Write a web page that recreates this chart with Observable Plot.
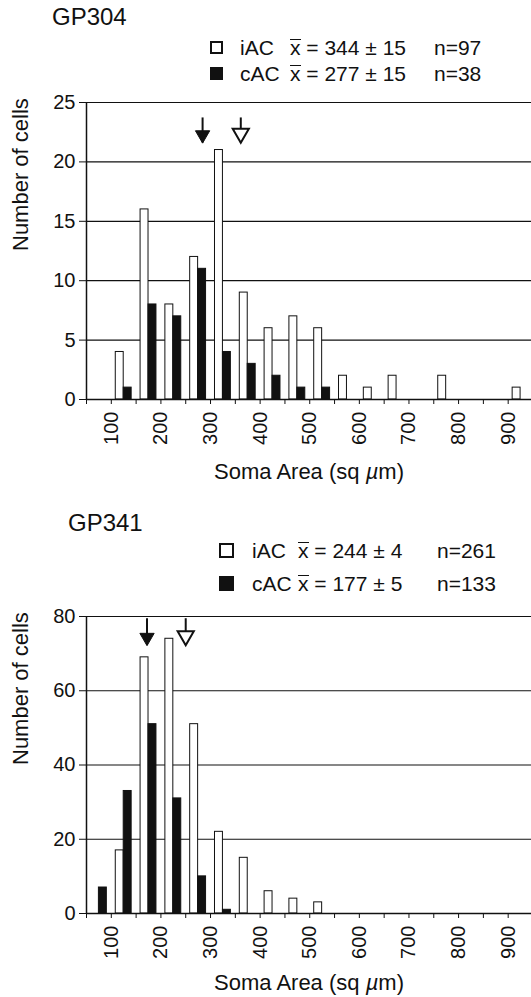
<!DOCTYPE html>
<html><head><meta charset="utf-8">
<script src="https://cdn.jsdelivr.net/npm/d3@7"></script>
<script src="https://cdn.jsdelivr.net/npm/@observablehq/plot@0.6"></script>
<style>
body{margin:0;background:#fff;font-family:"Liberation Sans",Arial,sans-serif;color:#111;}
#wrap{position:relative;width:531px;height:997px;overflow:hidden;background:#fff;}
.abs{position:absolute;white-space:nowrap;line-height:1;}
.title{font-size:24px;}
.leg{font-size:21px;}
.sq{position:absolute;box-sizing:border-box;border:2px solid #111;background:#fff;}
.sq.f{background:#111;}
.ov{position:relative;display:inline-block;}
.ov::before{content:"";position:absolute;left:0;right:0;top:2px;height:1.6px;background:#111;}
svg{position:absolute;left:0;}
</style></head><body><div id="wrap"></div>
<script>
// ---------- data ----------
const topBins = [100,150,200,250,300,350,400,450,500,550,600,650,700,750,800,850,900];
const topIAC  = [4,16,8,12,21,9,6,7,6,2,1,2,0,2,0,0,1];
const topCAC  = [1,8,7,11,4,3,2,1,1,0,0,0,0,0,0,0,0];
const botBins = [50,100,150,200,250,300,350,400,450,500];
const botIAC  = [0,17,69,74,51,22,15,6,4,3];
const botCAC  = [7,33,51,31,10,1,0,0,0,0];
const xTicks = [50,100,150,200,250,300,350,400,450,500,550,600,650,700,750,800,850,900];
const xTickLabels = [100,200,300,400,500,600,700,800,900];
const topYTicks = [0,5,10,15,20,25];
const botYTicks = [0,20,40,60,80];
// arrows: [cAC (filled), iAC (open)]
const topArrowX = [284,361];
const topArrowTop = [23.7,23.7];
const topArrowTip = [21.6,21.6];
const botArrowX = [172,250];
const botArrowTop = [79.4,79.4];
const botArrowTip = [72.2,72.2];
const groups = ["iAC","cAC"];
const topStats = {iAC:["344 ± 15","n=97"], cAC:["277 ± 15","n=38"]};
const botStats = {iAC:["244 ± 4","n=261"], cAC:["177 ± 5","n=133"]};

const BW = 16; // bar width in x units
const wrap = document.getElementById("wrap");

function addText(cls, txt, left, top){
  const d = document.createElement("div");
  d.className = "abs " + cls;
  d.style.left = left + "px"; d.style.top = top + "px";
  d.innerHTML = txt;
  wrap.appendChild(d);
}

function legend(stats, rows, sqLeft, sqSize, xLab, xMean, xN){
  groups.forEach((g,i)=>{
    const c = rows[i];
    const s = document.createElement("div");
    s.className = "sq" + (g==="cAC" ? " f" : "");
    s.style.left = sqLeft+"px"; s.style.top = (c - sqSize/2)+"px";
    s.style.width = sqSize+"px"; s.style.height = sqSize+"px";
    wrap.appendChild(s);
    addText("leg", g, xLab, c-10.5);
    addText("leg", '<span class="ov">x</span> = ' + stats[g][0], xMean, c-10.5);
    addText("leg", stats[g][1], xN, c-10.5);
  });
}

function chart({bins, iac, cac, yTicks, yMax, arrowX, arrowTop, arrowTip, top, mt, mb, titleDy}){
  const rows = bins.map((b,i)=>({c:b+25, iac:iac[i], cac:cac[i]}));
  const arrows = arrowX.map((x,i)=>({x, top:arrowTop[i], tip:arrowTip[i], filled:i===0}));
  const plot = Plot.plot({
    width: 531, height: mt + 297 + mb,
    marginLeft: 86, marginRight: 0, marginTop: mt, marginBottom: mb,
    x: {domain: [50, 947]},
    y: {domain: [0, yMax]},
    style: {fontFamily: "'Liberation Sans', Arial, sans-serif", fontSize: "20px", color: "#111", background: "white", overflow: "visible"},
    marks: [
      Plot.gridY(yTicks.filter(d=>d>0), {stroke:"#111", strokeOpacity:1, strokeWidth:1.2}),
      Plot.rect(rows.filter(d=>d.iac>0), {x1:d=>d.c-BW, x2:d=>d.c, y1:0, y2:"iac", fill:"white", stroke:"#111", strokeWidth:1}),
      Plot.rect(rows.filter(d=>d.cac>0), {x1:d=>d.c, x2:d=>d.c+BW, y1:0, y2:"cac", fill:"#111", stroke:"#111", strokeWidth:1}),
      Plot.ruleX([50], {stroke:"#111", strokeWidth:1.5}),
      Plot.ruleY([0], {stroke:"#111", strokeWidth:1.5}),
      Plot.axisY({ticks: yTicks, tickSize: 7, tickPadding: 4, label: null, fontSize: 20}),
      Plot.axisX({ticks: xTicks, tickSize: 5, tickPadding: 7, tickRotate: -90, label: null, fontSize: 20,
        tickFormat: d => xTickLabels.includes(d) ? String(d) : ""}),
      Plot.text(["Soma Area (sq µm)"], {text:d=>d, frameAnchor:"bottom", dy: titleDy, lineAnchor:"bottom", fontSize: 22}),
      Plot.text(["Number of cells"], {text:d=>d, frameAnchor:"left", dx:-66, rotate:-90, fontSize: 22}),
      Plot.ruleX(arrows, {x:"x", y1:"top", y2:"tip", stroke:"#111", strokeWidth:2}),
      Plot.dot(arrows.filter(d=>d.filled), {x:"x", y:"tip", symbol:"triangle", rotate:180, r:5.3, dy:-8, fill:"#111", stroke:"#111", strokeWidth:1}),
      Plot.dot(arrows.filter(d=>!d.filled), {x:"x", y:"tip", symbol:"triangle", rotate:180, r:6, dy:-9.5, fill:"white", stroke:"#111", strokeWidth:2})
    ]
  });
  plot.style.top = top + "px";
  // italic mu
  plot.querySelectorAll("text").forEach(t=>{
    if (t.textContent.includes("µ")) {
      const s = t.textContent; const i = s.indexOf("µ");
      t.textContent = "";
      const ns = "http://www.w3.org/2000/svg";
      const a = document.createElementNS(ns,"tspan"); a.textContent = s.slice(0,i);
      const b = document.createElementNS(ns,"tspan"); b.textContent = "µ"; b.setAttribute("font-style","italic");
      const c = document.createElementNS(ns,"tspan"); c.textContent = s.slice(i+1);
      t.append(a,b,c);
    }
  });
  wrap.appendChild(plot);
}

chart({bins:topBins, iac:topIAC, cac:topCAC, yTicks:topYTicks, yMax:25,
  arrowX:topArrowX, arrowTop:topArrowTop, arrowTip:topArrowTip, top:90, mt:12, mb:90, titleDy:79});
chart({bins:botBins, iac:botIAC, cac:botCAC, yTicks:botYTicks, yMax:80,
  arrowX:botArrowX, arrowTop:botArrowTop, arrowTip:botArrowTip, top:600, mt:16, mb:84, titleDy:76});

addText("title", "GP304", 52, 5);
addText("title", "GP341", 68, 511);
legend(topStats, [47,73], 210, 13, 240, 290, 434);
legend(botStats, [550,583], 219, 15, 252, 298, 437);
</script>
</body></html>
